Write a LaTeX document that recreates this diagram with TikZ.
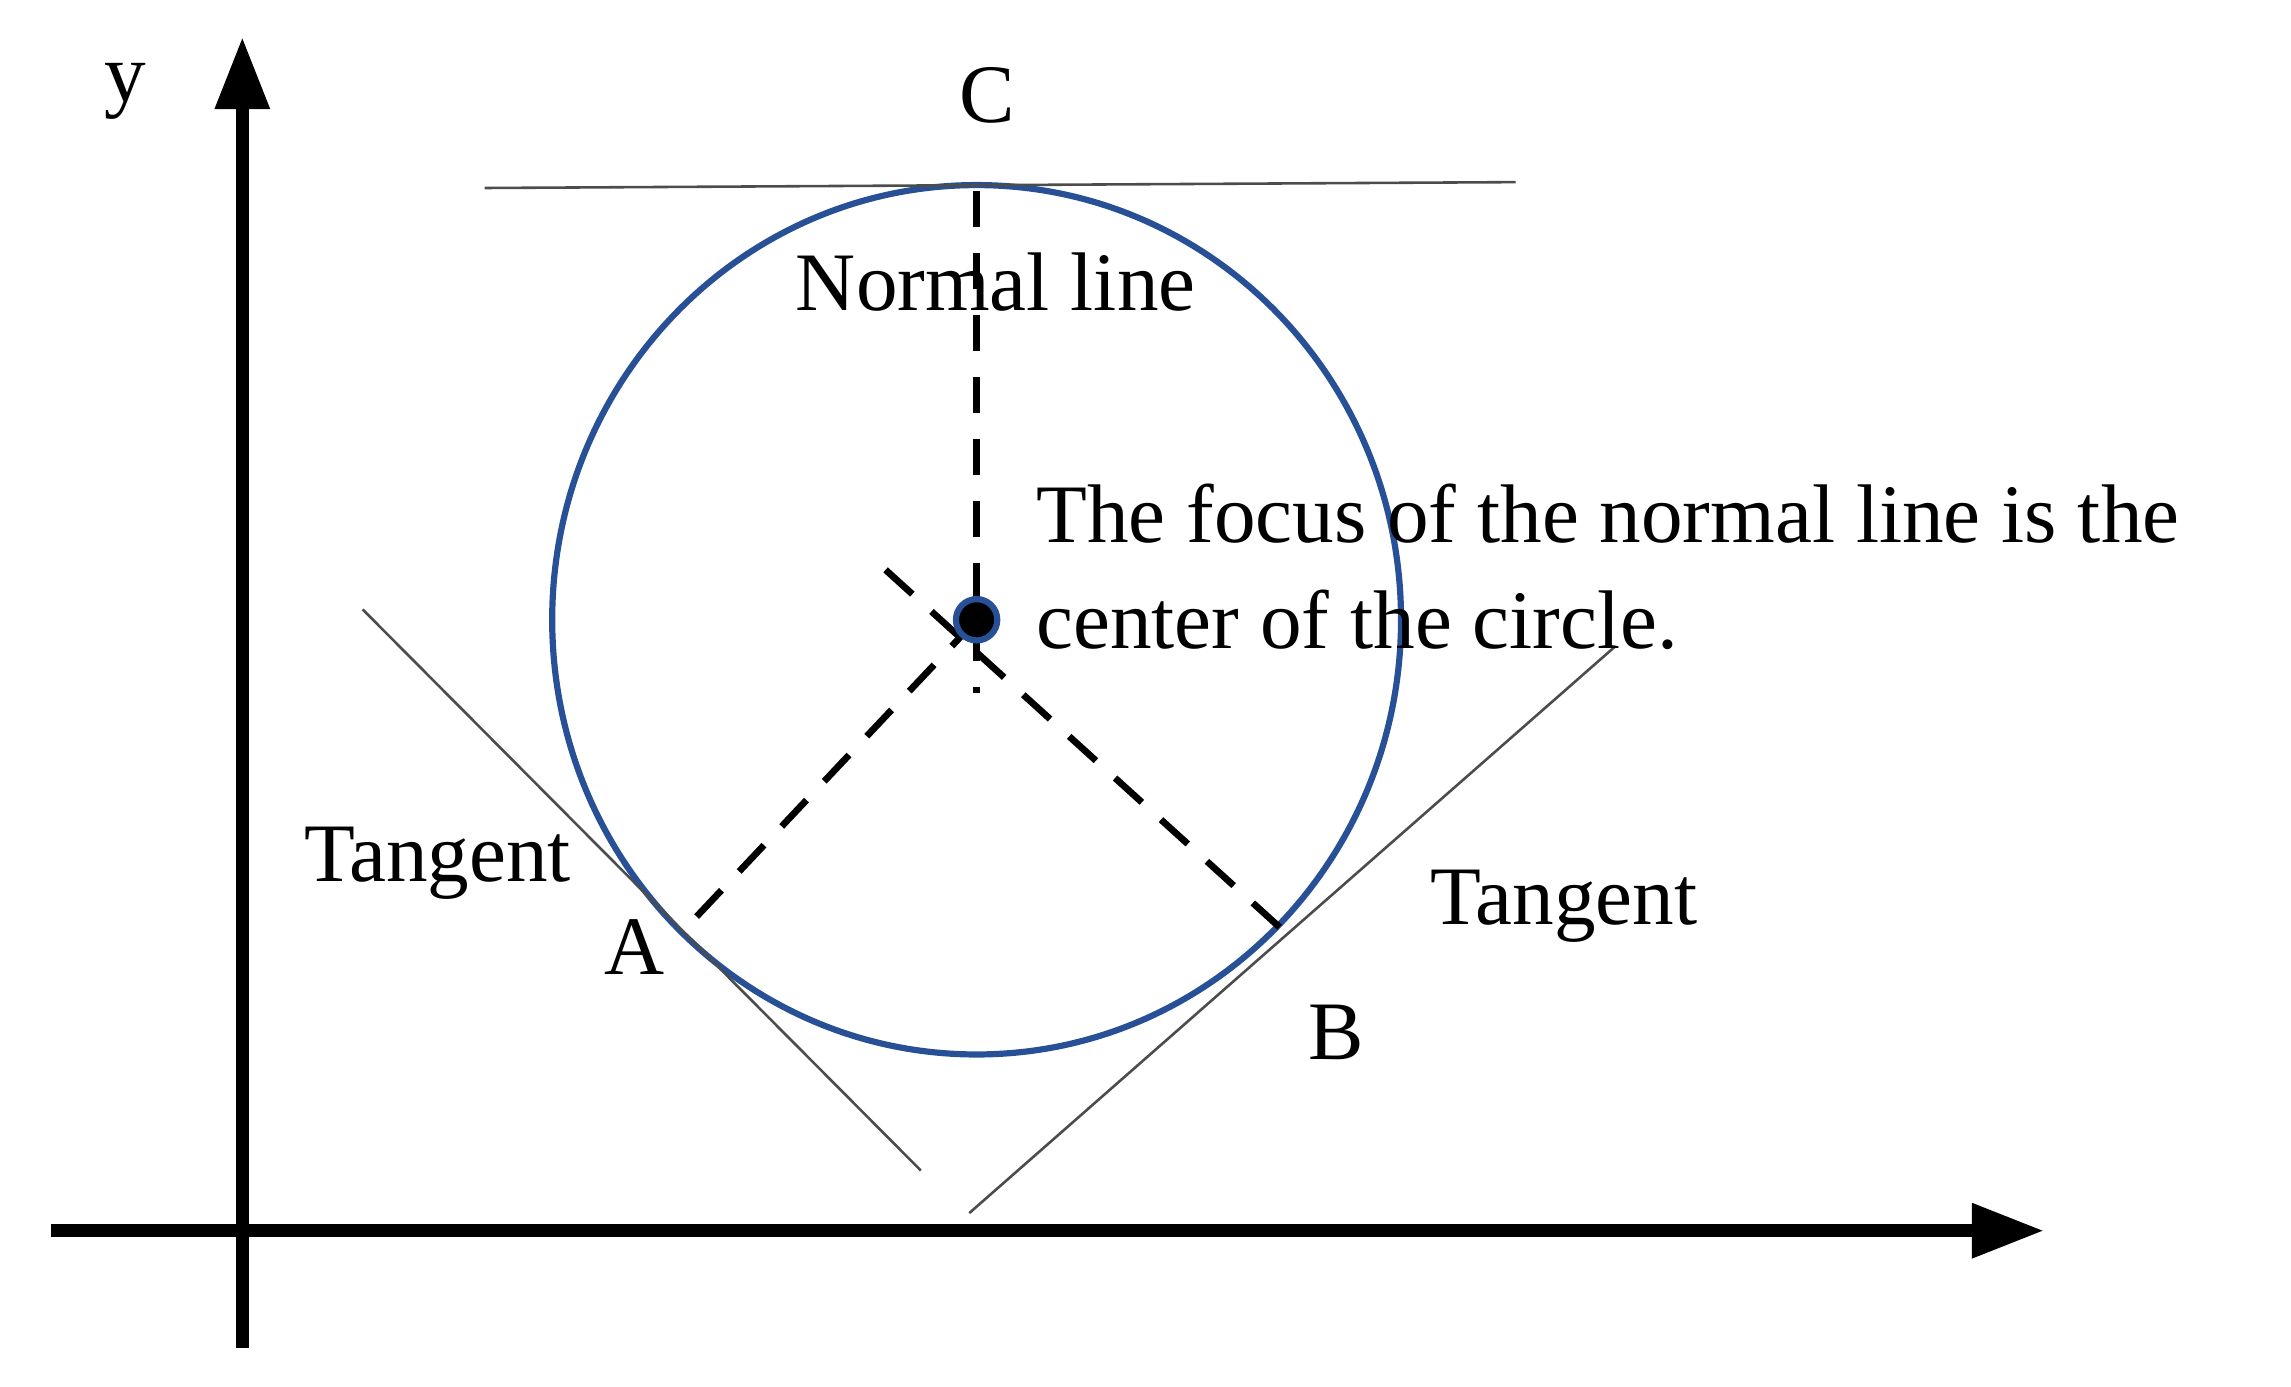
\documentclass[tikz,border=0pt]{standalone}
\usepackage{fontspec}
\setmainfont{Liberation Serif}
\usetikzlibrary{arrows.meta}
\definecolor{cblue}{RGB}{40,80,150}
\begin{document}
\begin{tikzpicture}[x=0.01cm,y=-0.01cm,
  axis/.style={line width=2.6pt,-{Triangle[length=14pt,width=10pt]}},
  tline/.style={line width=0.5pt,black!70},
  dline/.style={line width=1.3pt,dash pattern=on 7pt off 5pt},
  lab/.style={font=\fontsize{16.1}{18}\selectfont,inner sep=0pt}]
\useasboundingbox (0,0) rectangle (1560,944);
\coordinate (yb) at (165,918); \coordinate (yt) at (165,25);
\coordinate (xl) at (35,838); \coordinate (xr) at (1392,838);
\draw[axis] (yb) -- (yt);
\draw[axis] (xl) -- (xr);
\node[lab] (ylab) at (85,62) {y};
\coordinate (O) at (665,422);
\draw[line width=1.2pt,cblue] (O) ellipse [x radius=289,y radius=296];
\coordinate (t1) at (330,128); \coordinate (t2) at (1032,124);
\draw[tline] (t1) -- (t2);
\coordinate (L1) at (247,415); \coordinate (L2) at (627,797);
\draw[tline] (L1) -- (L2);
\coordinate (R1) at (660,826); \coordinate (R2) at (1100,440);
\draw[tline] (R1) -- (R2);
\coordinate (Ct) at (665,130); \coordinate (Cb) at (665,472);
\coordinate (A) at (465,634); \coordinate (B) at (872,632); \coordinate (Bx) at (603,388);
\draw[dline] (Ct) -- (Cb);
\draw[dline] (Bx) -- (B);
\draw[dline] (O) -- (A);
\node[circle,fill=black,draw=cblue,line width=1.2pt,minimum size=8pt,inner sep=0pt] (dot) at (O) {};
\node[lab] (C) at (672,65) {C};
\node[lab] (nl) at (678,192) {Normal line};
\node[lab,anchor=west] (f1) at (705,350) {The focus of the normal line is the};
\node[lab,anchor=west] (f2) at (705,422) {center of the circle.};
\node[lab] (tl) at (298,588) {Tangent};
\node[lab] (al) at (432,645) {A};
\node[lab] (tr) at (1065,617) {Tangent};
\node[lab] (bl) at (910,703) {B};
\end{tikzpicture}
\end{document}
